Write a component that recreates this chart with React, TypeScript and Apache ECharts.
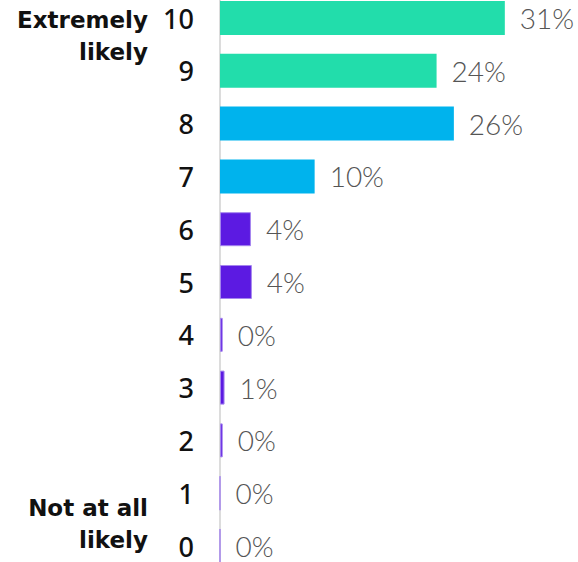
import React, { useEffect, useRef } from "react";
import * as echarts from "echarts";

const ratings = ["10", "9", "8", "7", "6", "5", "4", "3", "2", "1", "0"];
const barValues = [31.3, 23.8, 25.7, 10.4, 3.4, 3.5, 0.3, 0.5, 0.3, 0, 0];
const shownPct = [31, 24, 26, 10, 4, 4, 0, 1, 0, 0, 0];
const topLabel = ["Extremely", "likely"];
const bottomLabel = ["Not at all", "likely"];

const TEAL = "#22ddab";
const BLUE = "#00b3ed";
const PURPLE = "#5c1ae2";
const PURPLE_LIGHT = "#a585ee";

const OFFSET = 20;

function colorFor(r: number) {
  if (r >= 9) return { color: TEAL };
  if (r >= 7) return { color: BLUE };
  return { color: PURPLE, borderColor: PURPLE_LIGHT, borderWidth: 1 };
}

function sideText(lines: string[], firstY: number) {
  return lines.map((t, i) => ({
    type: "text",
    x: 148,
    y: OFFSET + firstY + i * 32,
    style: {
      text: t,
      align: "right",
      verticalAlign: "middle",
      fontSize: 23,
      fontWeight: "bold",
      fontFamily: "'DejaVu Sans', sans-serif",
      fill: "#111",
    },
  }));
}

export default function App() {
  const ref = useRef<HTMLDivElement>(null);
  useEffect(() => {
    document.body.style.margin = "0";
    const chart = echarts.init(ref.current!, null, { renderer: "svg" });
    chart.setOption({
      animation: false,
      grid: { left: 220, top: OFFSET - 8.4, height: 580.8, right: 39.5 },
      xAxis: {
        type: "value",
        min: 0,
        max: 35,
        show: false,
      },
      yAxis: {
        type: "category",
        data: ratings,
        inverse: true,
        axisTick: { show: false },
        axisLine: { show: true, lineStyle: { color: "#dcdcdc", width: 2 } },
        axisLabel: {
          margin: 26,
          color: "#111",
          fontSize: 27,
          lineHeight: 22,
          fontWeight: 500,
          fontFamily: "'Noto Sans', sans-serif",
        },
      },
      series: [
        {
          type: "bar",
          barWidth: 34,
          data: barValues.map((v, i) => ({
            value: v,
            itemStyle: colorFor(Number(ratings[i])),
          })),
          label: {
            show: true,
            position: "right",
            distance: 15,
            color: "#555",
            fontSize: 28,
            fontWeight: 300,
            fontFamily: "Lato, 'Open Sans', sans-serif",
            formatter: (p: any) => shownPct[p.dataIndex] + "%",
          },
        },
      ],
      graphic: [...sideText(topLabel, 20), ...sideText(bottomLabel, 508)],
    });
    return () => chart.dispose();
  }, []);
  return (
    <div
      ref={ref}
      style={{ position: "absolute", left: 0, top: -OFFSET, width: 578, height: 562 + 2 * OFFSET }}
    />
  );
}
